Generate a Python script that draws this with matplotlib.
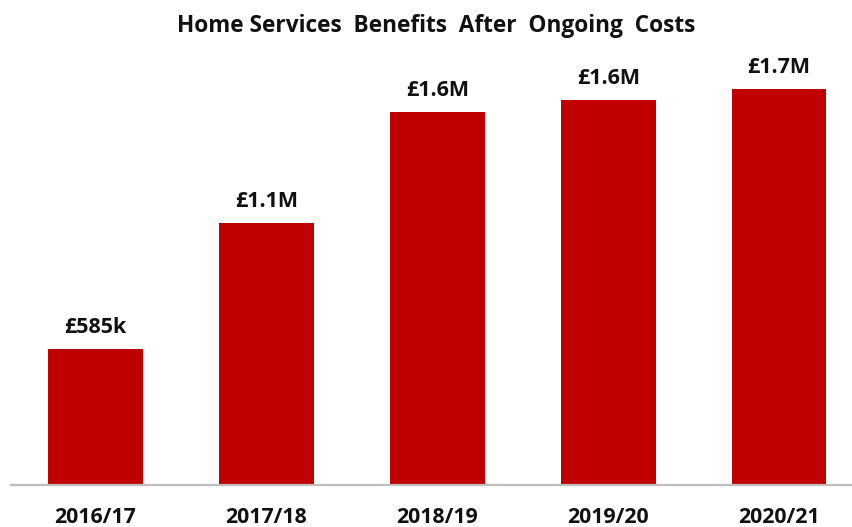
import math

import matplotlib.pyplot as plt
import numpy as np

plt.rcParams["font.family"] = ["Open Sans", "DejaVu Sans"]

# Home services benefits after ongoing costs, £ thousands per financial year
years = ["2016/17", "2017/18", "2018/19", "2019/20", "2020/21"]
benefits_k = [585, 1128, 1608, 1660, 1707]

BAR_RED = "#C00000"
AXIS_GREY = "#BFBFBF"


def fmt_gbp(v):
    # under £1M show whole thousands, otherwise millions cut to one decimal
    if v < 1000:
        return f"£{v:.0f}k"
    return f"£{math.floor(v / 100) / 10:.1f}M"


fig = plt.figure(figsize=(8.52, 5.27), dpi=100)
ax = fig.add_axes([11 / 852, 42 / 527, 841 / 852, 425 / 527])

x = np.arange(len(years))
bars = ax.bar(x, benefits_k, width=0.555, color=BAR_RED, zorder=2)

for rect, v in zip(bars, benefits_k):
    ax.annotate(fmt_gbp(v), (rect.get_x() + rect.get_width() / 2, rect.get_height()),
                xytext=(0, 11.5), textcoords="offset points",
                ha="center", va="baseline", fontsize=15.5, fontweight="bold",
                color="#111111")

ax.set_xlim(-0.494, 4.427)
ax.set_ylim(0, 1832)
ax.set_xticks(x)
ax.set_xticklabels(years, fontsize=15.3, fontweight="bold", color="#111111")
ax.tick_params(axis="x", length=0, pad=15.5)
ax.set_yticks([])

for side in ("top", "right", "left"):
    ax.spines[side].set_visible(False)
ax.spines["bottom"].set_color(AXIS_GREY)
ax.spines["bottom"].set_linewidth(1.6)

fig.text(436.5 / 852, 1 - 32 / 527, "Home Services  Benefits  After  Ongoing  Costs",
         ha="center", va="baseline", fontsize=16.3, fontweight="bold", color="#111111")

fig.savefig("out.png", dpi=100)
